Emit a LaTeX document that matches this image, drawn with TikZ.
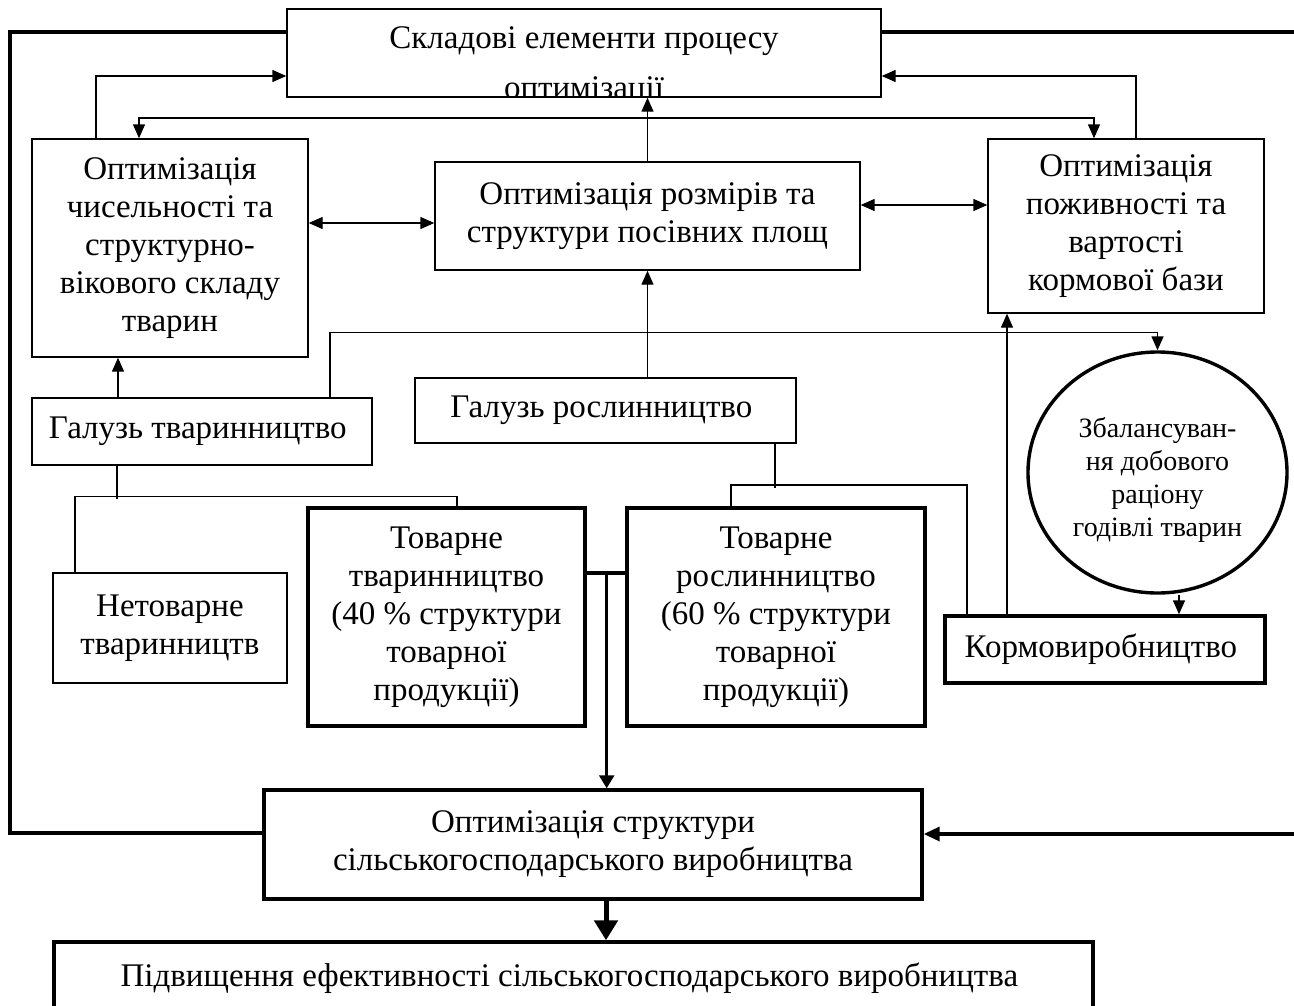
\documentclass[tikz,border=0pt]{standalone}
\usepackage{fontspec}
\setmainfont{Liberation Serif}
\usepackage{tikz}
\usetikzlibrary{shapes.geometric, arrows.meta, positioning}
\tikzset{
	block/.style={draw, line width=1.4pt, inner sep=0pt, align=center,
		font=\fontsize{33}{38}\selectfont},
	boldblock/.style={block, line width=3.4pt},
	caption/.style={anchor=base, inner sep=0pt, font=\fontsize{33}{38}\selectfont},
	arr/.style={line width=1.4pt, -{Triangle[length=14pt,width=12pt]}},
	biarr/.style={line width=1.4pt, {Triangle[length=14pt,width=12pt]}-{Triangle[length=14pt,width=12pt]}},
	link/.style={line width=1.4pt},
	boldlink/.style={line width=3.4pt},
	boldarr/.style={line width=3.4pt, -{Triangle[length=16pt,width=14pt]}},
	midarr/.style={line width=2.5pt, -{Triangle[length=13pt,width=15pt]}},
	bigarr/.style={line width=5pt, -{Triangle[length=20pt,width=23pt]}}
}

\begin{document}
\begin{tikzpicture}[x=1pt, y=-1pt]
	\useasboundingbox (0,0) rectangle (1294,1005);
	% draw rectangle node
	\node[block,
	minimum width=594pt,
	minimum height=88pt,
	path picture={
		\node[caption] (line1) at ([yshift=-39pt]path picture bounding box.north) {Складові елементи процесу};
		\node[caption] (line2) at ([yshift=-89pt]path picture bounding box.north) {оптимізації};
	}] (elements) at (584,53) {};
	\node[block,
	minimum width=276pt,
	minimum height=218pt] (animals) at (170,248) {
	Оптимізація\\чисельності та\\структурно-\\вікового складу\\тварин
	};
	\node[block,
	minimum width=425pt,
	minimum height=108pt] (area) at (647.5,216) {
	Оптимізація розмірів та\\структури посівних площ
	};
	\node[block,
	minimum width=276pt,
	minimum height=174pt] (feed) at (1126,226) {
	Оптимізація\\поживності та\\вартості\\кормової бази
	};
	\node[block,
	minimum width=340pt,
	minimum height=67pt] (livestock) at (202,431.5) {
	Галузь тваринництво
	};
	\node[block,
	minimum width=381pt,
	minimum height=65pt] (crops) at (605.5,410.5) {
	Галузь рослинництво
	};
	\node[block, ellipse,
	line width=3.4pt,
	minimum width=259pt,
	minimum height=241pt,
	font=\fontsize{28}{33}\selectfont] (balance) at (1157.5,472.5) {
	\mbox{}\\[1pt]Збалансуван-\\ня добового\\раціону\\годівлі тварин
	};
	\node[block,
	minimum width=234pt,
	minimum height=110pt] (noncom) at (170,628) {
	Нетоварне\\тваринництв
	};
	\node[boldblock,
	minimum width=277pt,
	minimum height=218pt] (comliv) at (446.5,617) {
	Товарне\\тваринництво\\(40 \% структури\\товарної\\продукції)
	};
	\node[boldblock,
	minimum width=298pt,
	minimum height=218pt] (comcrop) at (776,617) {
	Товарне\\рослинництво\\(60 \% структури\\товарної\\продукції)
	};
	\node[boldblock,
	minimum width=320pt,
	minimum height=67pt] (fodder) at (1105,649.5) {
	Кормовиробництво
	};
	\node[boldblock,
	minimum width=658pt,
	minimum height=109pt] (struct) at (593,844.5) {
	Оптимізація структури\\сільськогосподарського виробництва
	};
	\node[boldblock,
	minimum width=1039pt,
	minimum height=72pt] (result) at (573.5,978) {
	Підвищення ефективності сільськогосподарського виробництва
	};

	% Feedback loop
	\coordinate (lt) at (10,32);
	\coordinate (lb) at (10,833);
	\coordinate (rt) at (1320,32);
	\coordinate (rb) at (1320,834);
	\draw[boldlink] ([yshift=21pt]elements.west) -- (lt) -- (lb) -- (lb -| struct.west);
	\draw[boldarr] ([yshift=21pt]elements.east) -- (rt) -- (rb) -- (rb -| struct.east);

	% Arrows
	\coordinate (hub) at (647.5,118);
	\draw[arr] ([xshift=-74pt]animals.north) |- ([yshift=-23pt]elements.west);
	\draw[arr] ([xshift=10pt]feed.north) |- ([yshift=-23pt]elements.east);
	\draw[arr] (area.north) -- (area.north |- elements.south);
	\draw[arr] (hub) -| ([xshift=-31pt]animals.north);
	\draw[arr] (hub) -| ([xshift=-32pt]feed.north);
	\draw[biarr] ([yshift=25pt]animals.east) -- ([yshift=25pt]animals.east -| area.west);
	\draw[biarr] ([yshift=11pt]area.east) -- ([yshift=11pt]area.east -| feed.west);
	\draw[arr] (crops.north -| area.south) -- (area.south);
	\draw[arr] ([xshift=-84pt]livestock.north) -- ([xshift=-84pt]livestock.north |- animals.south);
	\draw[arr] ([xshift=128pt]livestock.north) |- ([yshift=18pt]balance.north) -- (balance.north);
	\draw[arr] ([xshift=-98pt]fodder.north) -- ([xshift=-98pt]fodder.north |- feed.south);
	\draw[arr] ([xshift=21.5pt]balance.south) -- ([xshift=21.5pt]balance.south |- fodder.north);

	% Lines
	\draw[link] ([xshift=-85pt]livestock.south) -- ++(0,33);
	\draw[link] ([xshift=-95pt]noncom.north) |- ([xshift=10.5pt,yshift=10pt]comliv.north) -- ([xshift=10.5pt]comliv.north);
	\draw[link] ([xshift=169.5pt]crops.south) -- ++(0,44);
	\draw[link] ([xshift=-45pt]comcrop.north) |- ([xshift=-138pt,yshift=129.5pt]fodder.north) -- ([xshift=-138pt]fodder.north);

	% Commercial branches
	\coordinate (join) at ([xshift=20pt,yshift=44pt]comliv.east);
	\draw[boldlink] ([yshift=44pt]comliv.east) -- ([yshift=44pt]comliv.east -| comcrop.west);
	\draw[midarr] (join) -- (join |- struct.north);
	\draw[bigarr] ([xshift=13pt]struct.south) -- ([xshift=13pt]struct.south |- result.north);
\end{tikzpicture}
\end{document}
